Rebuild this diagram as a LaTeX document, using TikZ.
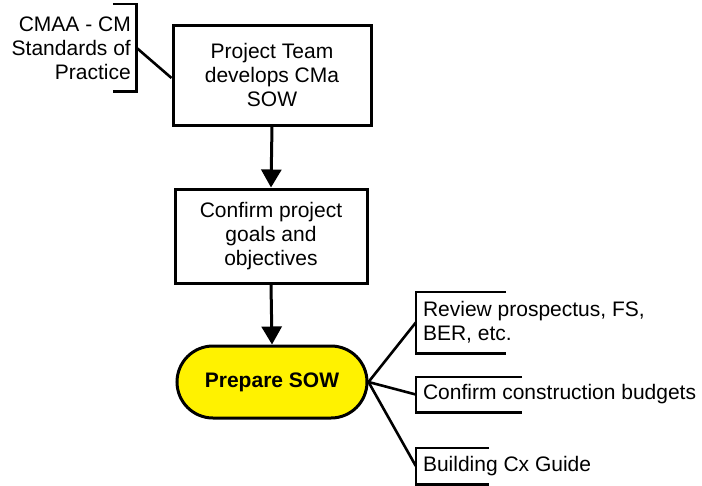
\documentclass[tikz,border=0pt]{standalone}
\usepackage{fontspec}
\setmainfont{Liberation Sans}
\usetikzlibrary{arrows.meta,calc,shapes.misc}
\tikzset{
    mybox/.style={draw=black,line width=3pt,inner sep=0pt,align=center},
    mypill/.style={rounded rectangle,draw=black,fill=yellow,line width=3pt,inner sep=0pt,font=\bfseries\fontsize{21}{24}\selectfont},
    mybrack/.style={inner sep=0pt},
    myedge/.style={line width=2.6pt,draw=black},
    myarrow/.style={line width=3pt,draw=black,-{Triangle[length=18pt,width=20pt]}},
    every node/.style={font=\fontsize{21}{24}\selectfont}
}
\begin{document}
\begin{tikzpicture}[x=1pt,y=-1pt]
  \useasboundingbox (0,0) rectangle (702,485);
  % main flow
  \node[mybox,minimum width=198pt,minimum height=100pt] (team) at (272,75) {Project Team\\develops CMa\\SOW};
  \node[mybox,minimum width=192pt,minimum height=94pt] (goals) at (271,236) {Confirm project\\goals and\\objectives};
  \node[mypill,minimum width=190pt,minimum height=72pt] (sow) at (272,382) {Prepare SOW};
  \draw[myarrow] (team.south) -- (goals.north);
  \draw[myarrow] (goals.south) -- (sow.north);
  % brackets
  \node[mybrack,minimum width=23pt,minimum height=87pt] (cmaa) at (124.5,47.5) {};
  \node[mybrack,minimum width=90pt,minimum height=61pt] (rev) at (461,322.5) {};
  \node[mybrack,minimum width=106pt,minimum height=35pt] (bud) at (469,394.5) {};
  \node[mybrack,minimum width=73pt,minimum height=36pt] (cx) at (452.5,466) {};
  \draw[myedge] (cmaa.north west) -- (cmaa.north east) -- (cmaa.south east) -- (cmaa.south west);
  \foreach \B in {rev,bud,cx}{
    \draw[myedge] (\B.north east) -- (\B.north west) -- (\B.south west) -- (\B.south east);
    \draw[myedge] (sow.east) -- (\B.west);
  }
  \draw[myedge] (cmaa.east) -- ($(team.west)+(0,3)$);
  % texts
  \node[anchor=east,align=right,inner sep=0pt] (cmaatxt) at (131,48) {CMAA - CM\\Standards of\\Practice};
  \node[anchor=west,align=left,inner sep=0pt] (revtxt) at ($(rev.west)+(7,0)$) {Review prospectus, FS,\\BER, etc.};
  \node[anchor=west,inner sep=0pt] (budtxt) at ($(bud.west)+(7,0)$) {Confirm construction budgets};
  \node[anchor=west,inner sep=0pt] (cxtxt) at ($(cx.west)+(7,0)$) {Building Cx Guide};
\end{tikzpicture}
\end{document}
